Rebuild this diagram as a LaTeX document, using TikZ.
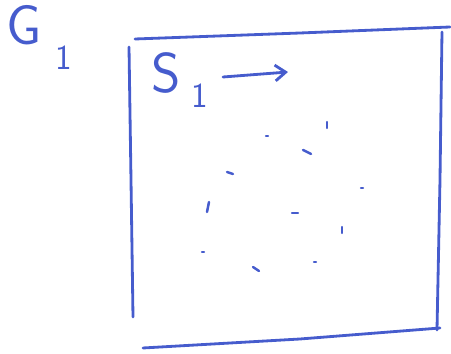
\documentclass[tikz,border=0pt]{standalone}
\usetikzlibrary{arrows.meta}
\definecolor{ink}{RGB}{70,92,205}
\begin{document}
\begin{tikzpicture}[
    x=0.02cm, y=-0.02cm,
    pen/.style={ink, line width=1.6pt, line cap=round},
    speck/.style={ink, line width=1.4pt, line cap=round},
    label/.style={ink, inner sep=0pt, anchor=base west,
                  font=\sffamily\fontsize{32}{34}\selectfont}
]
\useasboundingbox (0,0) rectangle (451,354);

% frame
\draw[pen] (135,39) -- (300,33) -- (450,27);
\draw[pen] (129,47) -- (131,180) -- (133,317);
\draw[pen] (442,32) -- (440,180) -- (437,330);
\draw[pen] (143,348) -- (300,339) -- (440,328);

% labels
\node[label] (g1) at (6,45)
  {G\hspace{0.25em}\raisebox{-0.5cm}{\fontsize{20}{22}\selectfont 1}};
\node[label] (s1) at (151,93)
  {S\hspace{0.2em}\raisebox{-0.3cm}{\fontsize{20}{22}\selectfont 1}};
\coordinate (s1end) at (288,72);
\draw[pen, -{Straight Barb[length=6pt,width=9pt]}] (223,77) -- (s1end);

% specks
\foreach \x/\y/\dx/\dy in {327/125/0/3, 267/136/1/0, 307/152/4/2, 230/173/3/1,
                           362/188/1/0, 208/207/-1/5, 295/213/3/0, 342/230/0/3,
                           203/252/1/0, 256/269/3/2, 315/262/1/0}
  \draw[speck] (\x-\dx,\y-\dy) -- (\x+\dx,\y+\dy);

\end{tikzpicture}
\end{document}
